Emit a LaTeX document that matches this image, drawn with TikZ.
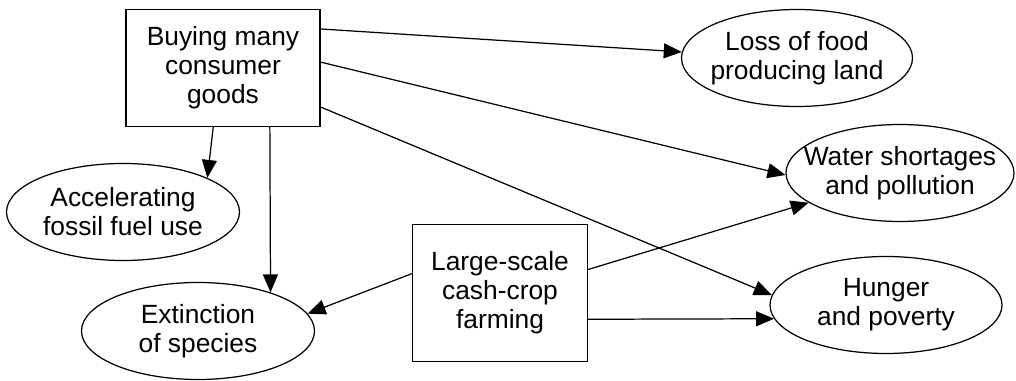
\documentclass[tikz,border=0pt]{standalone}
\usepackage{fontspec}
\setmainfont{Liberation Sans}
\usetikzlibrary{shapes,arrows.meta,calc}
\tikzset{
  basic-style/.style = {
    draw, line width=0.7pt,
    align=center,
    font=\fontsize{15}{16.5}\selectfont
  },
  cause-style/.style = {
    basic-style, rectangle, inner sep=0pt
  },
  effect-style/.style = {
    basic-style, ellipse,
    inner xsep=-1.5cm, inner ysep=-0.6cm,
    minimum width=4.62cm,
    minimum height=1.94cm
  },
  every edge/.style = {draw, -{Triangle[length=0.36cm,width=0.3cm]}, line width=0.7pt}
}
\newcommand\alongSide[3]{($(#1)!#3!(#2)$)}

\begin{document}
\begin{tikzpicture}
  \useasboundingbox (0,0) rectangle (20.32,7.62);

  % causes
  \node [cause-style, minimum width=3.88cm, minimum height=2.34cm] (buying) at (4.46,6.26)
        {Buying many\\consumer\\goods};
  \node [cause-style, minimum width=3.5cm, minimum height=2.74cm] (farming) at (10.0,1.76)
        {Large-scale\\cash-crop\\farming};

  % effects
  \node [effect-style] (loss) at (15.94,6.46) {Loss of food\\producing land};
  \node [effect-style, minimum width=4.56cm] (water) at (18.0,4.16) {Water shortages\\and pollution};
  \node [effect-style, minimum width=4.66cm] (fossil) at (2.46,3.38) {Accelerating\\fossil fuel use};
  \node [effect-style, minimum width=4.66cm] (species) at (3.96,1.0) {Extinction\\of species};
  \node [effect-style, minimum width=4.64cm] (hunger) at (17.72,1.52) {Hunger\\and poverty};

  \path \alongSide{buying.north east}{buying.south east}{0.17} edge (loss.177);
  \path \alongSide{buying.north east}{buying.south east}{0.45} edge (water.181);
  \path \alongSide{buying.north east}{buying.south east}{0.83} edge (hunger.175);
  \path \alongSide{buying.south west}{buying.south east}{0.45} edge (fossil.22);
  \path \alongSide{buying.south west}{buying.south east}{0.74} edge (species.28);

  \path \alongSide{farming.north west}{farming.south west}{0.36} edge (species.9);
  \path \alongSide{farming.north east}{farming.south east}{0.33} edge (water.198);
  \path \alongSide{farming.north east}{farming.south east}{0.69} edge (hunger.187);
\end{tikzpicture}
\end{document}
